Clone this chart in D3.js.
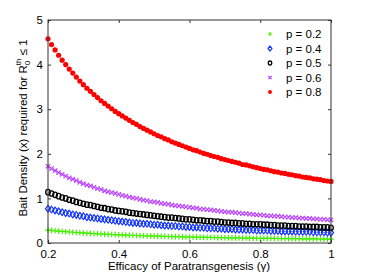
<html>
<head>
<script src="https://cdnjs.cloudflare.com/ajax/libs/d3/7.8.5/d3.min.js"></script>
<style>
  body { margin: 0; background: #fff; }
  text { font-family: "Liberation Sans", Arial, sans-serif; fill: #000; }
</style>
</head>
<body>
<svg id="chart" width="366" height="275"></svg>
<script>
var gamma = [0.20,0.21,0.22,0.23,0.24,0.25,0.26,0.27,0.28,0.29,
             0.30,0.31,0.32,0.33,0.34,0.35,0.36,0.37,0.38,0.39,
             0.40,0.41,0.42,0.43,0.44,0.45,0.46,0.47,0.48,0.49,
             0.50,0.51,0.52,0.53,0.54,0.55,0.56,0.57,0.58,0.59,
             0.60,0.61,0.62,0.63,0.64,0.65,0.66,0.67,0.68,0.69,
             0.70,0.71,0.72,0.73,0.74,0.75,0.76,0.77,0.78,0.79,
             0.80,0.81,0.82,0.83,0.84,0.85,0.86,0.87,0.88,0.89,
             0.90,0.91,0.92,0.93,0.94,0.95,0.96,0.97,0.98,0.99,1.00];

var p02 = [0.290,0.282,0.274,0.267,0.260,0.253,0.247,0.241,0.235,0.230,
           0.225,0.220,0.215,0.211,0.206,0.202,0.198,0.194,0.191,0.187,
           0.184,0.180,0.177,0.174,0.171,0.168,0.165,0.163,0.160,0.158,
           0.155,0.153,0.150,0.148,0.146,0.144,0.142,0.140,0.138,0.136,
           0.134,0.133,0.131,0.129,0.127,0.126,0.124,0.123,0.121,0.120,
           0.118,0.117,0.116,0.114,0.113,0.112,0.111,0.109,0.108,0.107,
           0.106,0.105,0.104,0.103,0.102,0.101,0.100,0.099,0.098,0.097,
           0.096,0.095,0.094,0.093,0.092,0.091,0.091,0.090,0.089,0.088,0.087];

var p04 = [0.77,0.75,0.73,0.71,0.69,0.67,0.66,0.64,0.63,0.61,
           0.60,0.58,0.57,0.56,0.55,0.54,0.53,0.52,0.51,0.50,
           0.49,0.48,0.47,0.46,0.45,0.45,0.44,0.43,0.43,0.42,
           0.41,0.41,0.40,0.39,0.39,0.38,0.38,0.37,0.37,0.36,
           0.36,0.35,0.35,0.34,0.34,0.33,0.33,0.33,0.32,0.32,
           0.31,0.31,0.31,0.30,0.30,0.30,0.29,0.29,0.29,0.28,
           0.28,0.28,0.28,0.27,0.27,0.27,0.26,0.26,0.26,0.26,
           0.25,0.25,0.25,0.25,0.25,0.24,0.24,0.24,0.24,0.23,0.23];

var p05 = [1.14,1.11,1.08,1.05,1.02,1.00,0.97,0.95,0.92,0.90,
           0.88,0.86,0.85,0.83,0.81,0.79,0.78,0.76,0.75,0.73,
           0.72,0.71,0.70,0.68,0.67,0.66,0.65,0.64,0.63,0.62,
           0.61,0.60,0.59,0.58,0.57,0.57,0.56,0.55,0.54,0.53,
           0.53,0.52,0.51,0.51,0.50,0.49,0.49,0.48,0.48,0.47,
           0.46,0.46,0.45,0.45,0.44,0.44,0.43,0.43,0.42,0.42,
           0.42,0.41,0.41,0.40,0.40,0.39,0.39,0.39,0.38,0.38,
           0.38,0.37,0.37,0.37,0.36,0.36,0.36,0.35,0.35,0.35,0.34];

var p06 = [1.72,1.67,1.62,1.58,1.54,1.50,1.46,1.43,1.40,1.36,
           1.33,1.30,1.28,1.25,1.22,1.20,1.17,1.15,1.13,1.11,
           1.09,1.07,1.05,1.03,1.01,1.00,0.98,0.96,0.95,0.93,
           0.92,0.91,0.89,0.88,0.87,0.85,0.84,0.83,0.82,0.81,
           0.80,0.79,0.78,0.76,0.76,0.75,0.74,0.73,0.72,0.71,
           0.70,0.69,0.69,0.68,0.67,0.66,0.66,0.65,0.64,0.63,
           0.63,0.62,0.61,0.61,0.60,0.60,0.59,0.58,0.58,0.57,
           0.57,0.56,0.56,0.55,0.55,0.54,0.54,0.53,0.53,0.52,0.52];

var p08 = [4.58,4.45,4.33,4.21,4.10,4.00,3.90,3.81,3.72,3.63,
           3.55,3.47,3.40,3.33,3.26,3.19,3.13,3.07,3.01,2.95,
           2.90,2.85,2.80,2.75,2.70,2.66,2.61,2.57,2.53,2.49,
           2.45,2.41,2.38,2.34,2.31,2.27,2.24,2.21,2.18,2.15,
           2.12,2.09,2.07,2.04,2.01,1.99,1.96,1.94,1.92,1.89,
           1.87,1.85,1.83,1.81,1.79,1.76,1.75,1.73,1.71,1.69,
           1.67,1.65,1.64,1.62,1.60,1.59,1.57,1.56,1.54,1.53,
           1.51,1.50,1.48,1.47,1.46,1.44,1.43,1.42,1.40,1.39,1.38];

var seriesNames = ["p = 0.2", "p = 0.4", "p = 0.5", "p = 0.6", "p = 0.8"];
var seriesValues = [p02, p04, p05, p06, p08];
var seriesColors = ["#44ee00", "#1133ff", "#000000", "#bb44ff", "#ff0000"];
var seriesMarkers = ["plus", "diamond", "circle", "cross", "dot"];
var xTicks = [0.2, 0.4, 0.6, 0.8, 1];
var yTicks = [0, 1, 2, 3, 4, 5];

var svg = d3.select("#chart");
var pLeft = 48, pTop = 20, pRight = 331, pBottom = 243;

var x = d3.scaleLinear().domain([0.2, 1]).range([pLeft, pRight]);
var y = d3.scaleLinear().domain([0, 5]).range([pBottom, pTop]);

svg.append("rect").attr("width", 366).attr("height", 275).attr("fill", "#fff");

// draw one marker of the given kind at (cx, cy), s scales it
function marker(g, kind, cx, cy, color, s) {
    if (kind == "plus") {
        var a = 2.8 * s;
        g.append("path").attr("d", "M" + (cx - a) + "," + cy + "h" + 2 * a + "M" + cx + "," + (cy - a) + "v" + 2 * a)
            .attr("stroke", color).attr("stroke-width", 1.2).attr("fill", "none");
    } else if (kind == "cross") {
        var c = 2.2 * s;
        g.append("path").attr("d", "M" + (cx - c) + "," + (cy - c) + "l" + 2 * c + "," + 2 * c +
                "M" + (cx - c) + "," + (cy + c) + "l" + 2 * c + "," + (-2 * c))
            .attr("stroke", color).attr("stroke-width", 1.2).attr("fill", "none");
    } else if (kind == "diamond") {
        var h = 3.3 * s, w = 2.6 * s;
        g.append("path").attr("d", "M" + cx + "," + (cy - h) + "l" + w + "," + h + "l" + (-w) + "," + h + "l" + (-w) + "," + (-h) + "z")
            .attr("stroke", color).attr("stroke-width", 1.2).attr("fill", "none");
    } else if (kind == "circle") {
        g.append("ellipse").attr("cx", cx).attr("cy", cy).attr("rx", 2.3 * s).attr("ry", 2.7 * s)
            .attr("stroke", color).attr("stroke-width", 1.3).attr("fill", "none");
    } else {
        g.append("circle").attr("cx", cx).attr("cy", cy).attr("r", 2.6 * s).attr("fill", color);
    }
}

var plot = svg.append("g");
seriesValues.forEach(function(vals, i) {
    var g = plot.append("g");
    vals.forEach(function(v, j) {
        marker(g, seriesMarkers[i], x(gamma[j]), y(v), seriesColors[i], 1);
    });
});

// axes, ticks pointing inward like matlab
svg.append("g").attr("transform", "translate(0," + pBottom + ")")
    .call(d3.axisBottom(x).tickValues(xTicks).tickSizeInner(-3).tickSizeOuter(0).tickPadding(7)
        .tickFormat(d3.format("")));
svg.append("g").attr("transform", "translate(0," + pTop + ")")
    .call(d3.axisTop(x).tickValues(xTicks).tickSizeInner(-3).tickSizeOuter(0).tickFormat(""));
svg.append("g").attr("transform", "translate(" + pLeft + ",0)")
    .call(d3.axisLeft(y).tickValues(yTicks).tickSizeInner(-3).tickSizeOuter(0).tickPadding(5)
        .tickFormat(d3.format("")));
svg.append("g").attr("transform", "translate(" + pRight + ",0)")
    .call(d3.axisRight(y).tickValues(yTicks).tickSizeInner(-3).tickSizeOuter(0).tickFormat(""));

svg.selectAll(".domain").remove();
svg.selectAll(".tick line").attr("stroke", "#333");
svg.selectAll(".tick text").style("font-size", "11.5px").style("font-family", "Liberation Sans, Arial, sans-serif");

svg.append("rect").attr("x", pLeft).attr("y", pTop)
    .attr("width", pRight - pLeft).attr("height", pBottom - pTop)
    .attr("fill", "none").attr("stroke", "#333").attr("stroke-width", 1);

// legend
var legend = svg.append("g");
seriesNames.forEach(function(name, i) {
    var ly = 34 + i * 14.5;
    marker(legend, seriesMarkers[i], 270, ly, seriesColors[i], 0.75);
    legend.append("text").attr("x", 286).attr("y", ly + 4).style("font-size", "11.5px").text(name);
});

// axis titles
svg.append("text").attr("x", 189).attr("y", 270).attr("text-anchor", "middle")
    .style("font-size", "11.5px").text("Efficacy of Paratransgenesis (\u03b3)");

var yl = svg.append("text").attr("transform", "translate(27,128) rotate(-90)")
    .attr("text-anchor", "middle").style("font-size", "11.5px");
yl.append("tspan").text("Bait Density (x) required for R");
yl.append("tspan").attr("dy", 3).style("font-size", "8px").text("0");
yl.append("tspan").attr("dx", -4.5).attr("dy", -9).style("font-size", "8px").text("th");
yl.append("tspan").attr("dy", 6).text(" \u2264 1");
</script>
</body>
</html>
